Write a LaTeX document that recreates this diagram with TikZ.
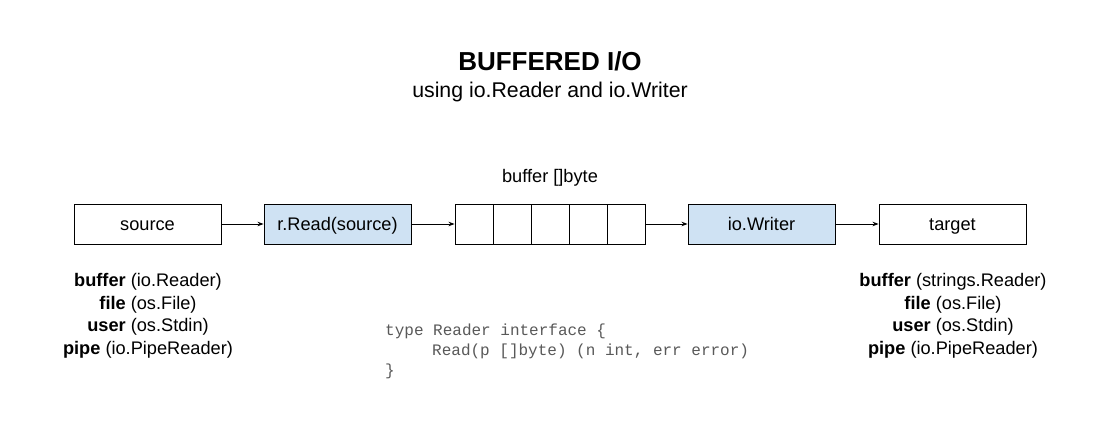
\documentclass[tikz,border=0pt]{standalone}
\usepackage{fontspec}
\setmainfont{Liberation Sans}
\newfontfamily\codefont{Liberation Mono}
\usetikzlibrary{arrows.meta}
\definecolor{boxblue}{HTML}{CFE2F3}
\definecolor{codegrey}{HTML}{595959}
\tikzset{
  box/.style={draw=black, line width=0.9pt, minimum width=147pt, minimum height=40pt,
    inner sep=0pt, text height=13pt, text depth=0pt,
    font=\fontsize{18.2}{22}\selectfont},
  bluebox/.style={box, fill=boxblue},
  cell/.style={draw=black, line width=0.9pt, minimum width=38pt, minimum height=40pt, inner sep=0pt},
  conn/.style={line width=0.9pt, -{Stealth[length=6pt,width=4.5pt]}},
  listtext/.style={align=center, anchor=north, inner sep=0pt,
    font=\fontsize{18.2}{22.5}\selectfont},
  codetext/.style={anchor=base west, inner sep=0pt, text=codegrey,
    font=\codefont\fontsize{16}{19.5}\selectfont},
}
\begin{document}
\begin{tikzpicture}[x=1pt,y=-1pt]
\useasboundingbox (0,0) rectangle (1104,422);
\fill[white] (0,0) rectangle (1104,422);
\node[anchor=base, inner sep=0pt, font=\bfseries\fontsize{26}{30}\selectfont] (title) at (550,71) {BUFFERED I/O};
\node[anchor=base, inner sep=0pt, font=\fontsize{21.3}{24}\selectfont] (subtitle) at (550,98) {using io.Reader and io.Writer};

\node[box] (source) at (147.5,224) {source};
\node[bluebox] (rread) at (337.5,224) {r.Read(source)};
\node[cell] (c1) at (474,224) {};
\node[cell] (c2) at (512,224) {};
\node[cell] (c3) at (550,224) {};
\node[cell] (c4) at (588,224) {};
\node[cell] (c5) at (626,224) {};
\node[bluebox] (writer) at (761.5,224) {io.Writer};
\node[box] (target) at (952.5,224) {target};
\node[anchor=base, inner sep=0pt, font=\fontsize{18.2}{22}\selectfont] (buflabel) at (550,183) {buffer []byte};

\draw[conn] (source) -- (rread);
\draw[conn] (rread) -- (c1);
\draw[conn] (c5) -- (writer);
\draw[conn] (writer) -- (target);

\node[listtext] (srclist) at (148,273.5) {\textbf{buffer} (io.Reader)\\\textbf{file} (os.File)\\\textbf{user} (os.Stdin)\\\textbf{pipe} (io.PipeReader)};
\node[listtext] (tgtlist) at (953,273.5) {\textbf{buffer} (strings.Reader)\\\textbf{file} (os.File)\\\textbf{user} (os.Stdin)\\\textbf{pipe} (io.PipeReader)};

\node[codetext] (code1) at (385,336) {type Reader interface \{};
\node[codetext] (code2) at (432,355.5) {Read(p []byte) (n int, err error)};
\node[codetext] (code3) at (385,375) {\}};
\end{tikzpicture}
\end{document}
